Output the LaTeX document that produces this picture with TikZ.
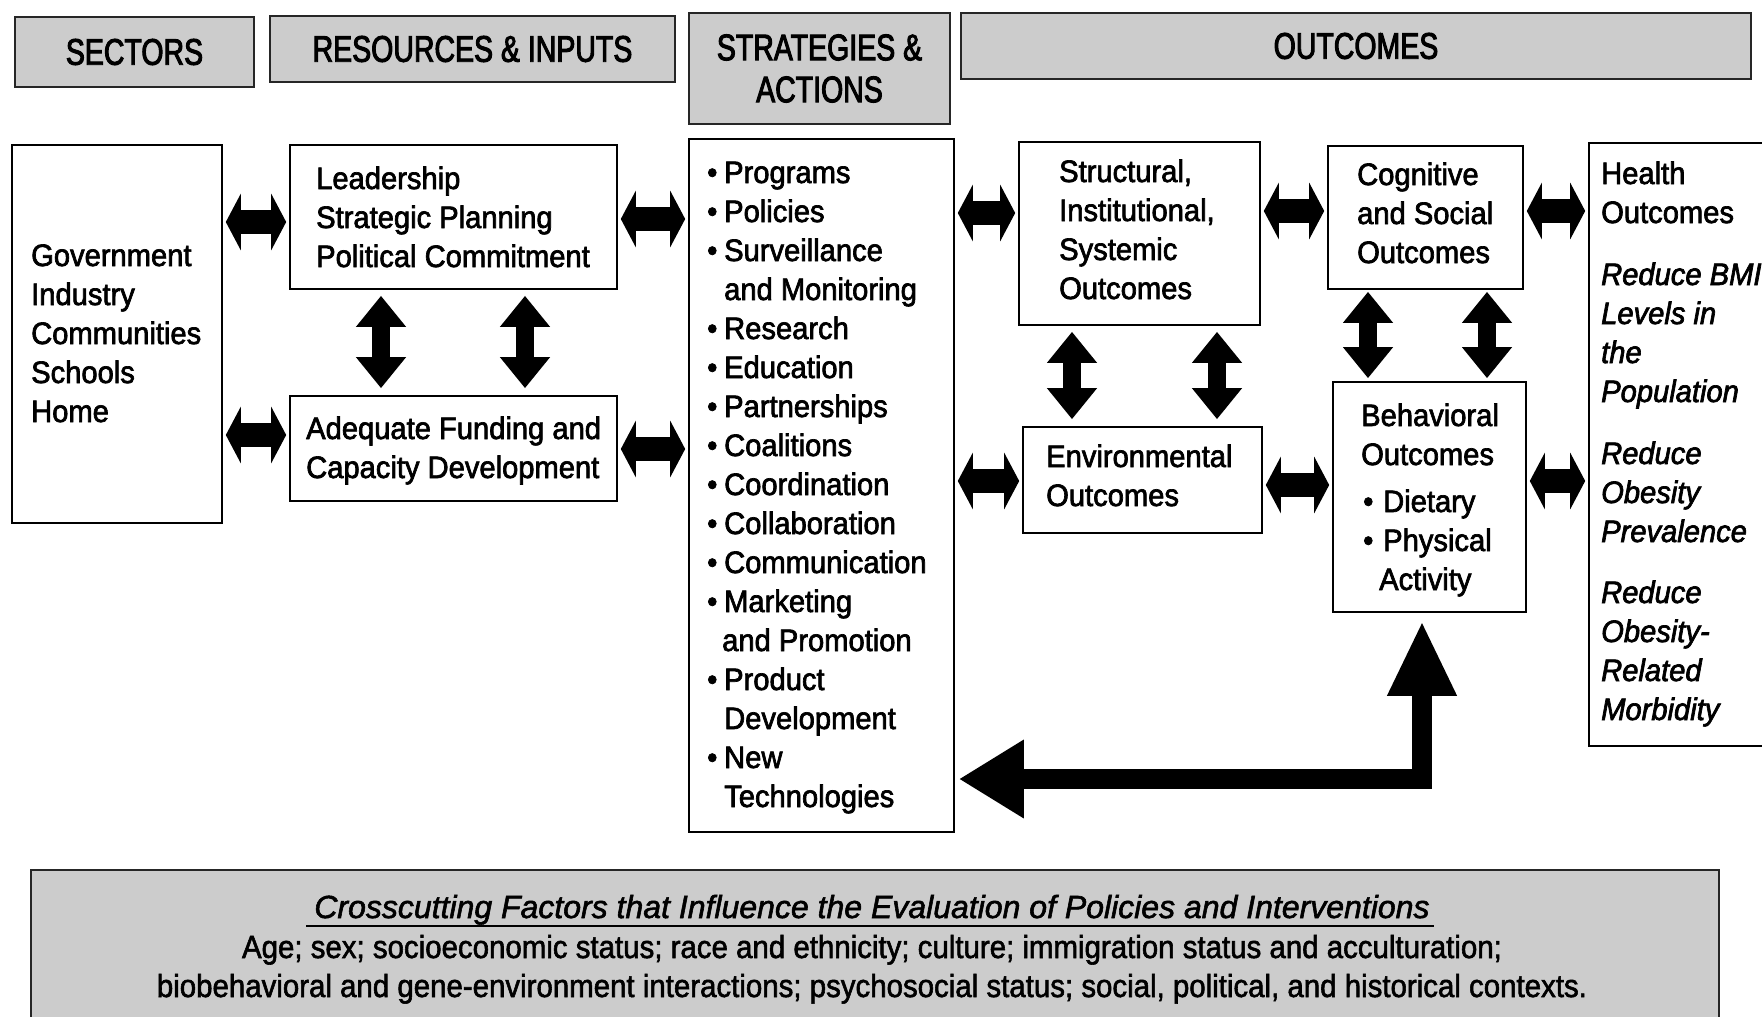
\documentclass[tikz,border=0pt]{standalone}
\usepackage{fontspec}
\setmainfont{Liberation Sans}[FakeStretch=0.94,FakeBold=2.2]
\newfontfamily\hdrfont{Liberation Sans}[FakeStretch=0.77,FakeBold=2.6]
\newfontfamily\crossfont{Liberation Sans}[FakeStretch=0.92,FakeBold=1.8]
\newfontfamily\crosstitlefont{Liberation Sans}[FakeBold=1.8]
\usetikzlibrary{arrows.meta}
\definecolor{hdrgray}{gray}{0.80}
\begin{document}
\begin{tikzpicture}[x=1pt,y=-1pt,
  box/.style={draw=black, line width=1.6pt, fill=white, inner sep=0pt},
  hdr/.style={draw=black!85, line width=2.6pt, fill=hdrgray, inner sep=0pt, align=center,
              font=\hdrfont\fontsize{37}{42}\selectfont},
  txt/.style={inner sep=0pt, align=left, anchor=base west, font=\fontsize{31}{39}\selectfont},
  harr/.style={line width=24pt, {Triangle[width=56pt,length=15pt]}-{Triangle[width=56pt,length=15pt]},
               shorten <=3pt, shorten >=3pt},
  varr/.style={line width=18pt, {Triangle[width=48pt,length=31pt]}-{Triangle[width=48pt,length=31pt]},
               shorten <=6pt, shorten >=7pt},
  bigarr/.style={line width=20pt, line join=miter,
                 {Triangle[width=74pt,length=65pt]}-{Triangle[width=64pt,length=75pt]},
                 shorten <=4pt, shorten >=8pt}
]
\useasboundingbox (0,0) rectangle (1762,1017);
\clip (0,0) rectangle (1762,1017);
\fill[white] (0,0) rectangle (1762,1017);

% headers
\node[hdr, minimum width=239pt, minimum height=70pt] (hsec) at (134.5,52) {SECTORS};
\node[hdr, minimum width=405pt, minimum height=66pt] (hres) at (472.5,49) {RESOURCES \& INPUTS};
\node[hdr, minimum width=261pt, minimum height=111pt] (hstr) at (819.5,68.5) {STRATEGIES \&\\ACTIONS};
\node[hdr, minimum width=790pt, minimum height=66pt] (hout) at (1356,46) {OUTCOMES};

% boxes
\node[box, minimum width=210pt, minimum height=378pt] (sect) at (117,334) {};
\node[box, minimum width=327pt, minimum height=144pt] (lead) at (453.5,217) {};
\node[box, minimum width=327pt, minimum height=105pt] (fund) at (453.5,448.5) {};
\node[box, minimum width=265pt, minimum height=693pt] (strat) at (821.5,485.5) {};
\node[box, minimum width=241pt, minimum height=183pt] (struct) at (1139.5,233.5) {};
\node[box, minimum width=239pt, minimum height=106pt] (env) at (1142.5,480) {};
\node[box, minimum width=195pt, minimum height=143pt] (cog) at (1425.5,217.5) {};
\node[box, minimum width=193pt, minimum height=230pt] (beh) at (1429.5,497) {};
\node[box, minimum width=191pt, minimum height=603pt] (health) at (1684.5,444.5) {};

% texts (anchor = baseline of the last line)
\node[txt] (sect-t) at (31,422) {Government\\Industry\\Communities\\Schools\\Home};
\node[txt] (lead-t) at (316,267) {Leadership\\Strategic Planning\\Political Commitment};
\node[txt] (fund-t) at (306,478) {Adequate Funding and\\Capacity Development};
\node[txt] (strat-t) at (707,807) {%
\makebox[17pt][l]{\textbullet}Programs\\
\makebox[17pt][l]{\textbullet}Policies\\
\makebox[17pt][l]{\textbullet}Surveillance\\
\hspace*{17pt}and Monitoring\\
\makebox[17pt][l]{\textbullet}Research\\
\makebox[17pt][l]{\textbullet}Education\\
\makebox[17pt][l]{\textbullet}Partnerships\\
\makebox[17pt][l]{\textbullet}Coalitions\\
\makebox[17pt][l]{\textbullet}Coordination\\
\makebox[17pt][l]{\textbullet}Collaboration\\
\makebox[17pt][l]{\textbullet}Communication\\
\makebox[17pt][l]{\textbullet}Marketing\\
\hspace*{15pt}and Promotion\\
\makebox[17pt][l]{\textbullet}Product\\
\hspace*{17pt}Development\\
\makebox[17pt][l]{\textbullet}New\\
\hspace*{17pt}Technologies};
\node[txt] (struct-t) at (1059,299) {Structural,\\Institutional,\\Systemic\\Outcomes};
\node[txt] (env-t) at (1046,506) {Environmental\\Outcomes};
\node[txt] (cog-t) at (1357,263) {Cognitive\\and Social\\Outcomes};
\node[txt] (beh-t) at (1361,590) {Behavioral\\Outcomes\\[8pt]
\hspace*{2pt}\makebox[20pt][l]{\textbullet}Dietary\\
\hspace*{2pt}\makebox[20pt][l]{\textbullet}Physical\\
\hspace*{18pt}Activity};
\node[txt] (health-t) at (1601,720) {Health\\Outcomes\\[23pt]
\textit{Reduce BMI}\\\textit{Levels in}\\\textit{the}\\\textit{Population}\\[23pt]
\textit{Reduce}\\\textit{Obesity}\\\textit{Prevalence}\\[22pt]
\textit{Reduce}\\\textit{Obesity-}\\\textit{Related}\\\textit{Morbidity}};

% crosscutting box
\node[draw=black!85, line width=2.6pt, fill=hdrgray, minimum width=1688pt, minimum height=160pt, inner sep=0pt] (cross) at (875,950) {};
\node[inner sep=0pt, anchor=base, font=\crosstitlefont\itshape\fontsize{32}{38}\selectfont] (ctitle) at (872,918)
  {Crosscutting Factors that Influence the Evaluation of Policies and Interventions};
\draw[line width=2.5pt] ([xshift=-8pt,yshift=-8pt]ctitle.base west) -- ([xshift=4pt,yshift=-8pt]ctitle.base east);
\node[inner sep=0pt, anchor=base, font=\crossfont\fontsize{32}{39}\selectfont] (cl1) at (872,958)
  {Age; sex; socioeconomic status; race and ethnicity; culture; immigration status and acculturation;};
\node[inner sep=0pt, anchor=base, font=\crossfont\fontsize{32}{39}\selectfont] (cl2) at (872,997)
  {biobehavioral and gene-environment interactions; psychosocial status; social, political, and historical contexts.};

% arrow levels
\coordinate (y1) at (0,222);
\coordinate (y2) at (0,435);
\coordinate (y3) at (0,219);
\coordinate (y4) at (0,449);
\coordinate (y5) at (0,213);
\coordinate (y6) at (0,481);
\coordinate (y7) at (0,211);
\coordinate (y8) at (0,485);
\coordinate (y9) at (0,211);
\coordinate (y10) at (0,481);
\draw[harr] (sect.east |- y1) -- (lead.west |- y1);
\draw[harr] (sect.east |- y2) -- (fund.west |- y2);
\draw[harr] (lead.east |- y3) -- (strat.west |- y3);
\draw[harr] (fund.east |- y4) -- (strat.west |- y4);
\draw[harr] (strat.east |- y5) -- (struct.west |- y5);
\draw[harr] (strat.east |- y6) -- (env.west |- y6);
\draw[harr] (struct.east |- y7) -- (cog.west |- y7);
\draw[harr] (env.east |- y8) -- (beh.west |- y8);
\draw[harr] (cog.east |- y9) -- (health.west |- y9);
\draw[harr] (beh.east |- y10) -- (health.west |- y10);

\coordinate (x1) at (381,0);
\coordinate (x2) at (525,0);
\coordinate (x3) at (1072,0);
\coordinate (x4) at (1217,0);
\coordinate (x5) at (1368,0);
\coordinate (x6) at (1487,0);
\draw[varr] (x1 |- lead.south) -- (x1 |- fund.north);
\draw[varr] (x2 |- lead.south) -- (x2 |- fund.north);
\draw[varr] (x3 |- struct.south) -- (x3 |- env.north);
\draw[varr] (x4 |- struct.south) -- (x4 |- env.north);
\draw[varr, shorten <=2pt, shorten >=3pt] (x5 |- cog.south) -- (x5 |- beh.north);
\draw[varr, shorten <=2pt, shorten >=3pt] (x6 |- cog.south) -- (x6 |- beh.north);

\coordinate (bend) at (1422,779);
\draw[bigarr] (strat.east |- bend) -- (bend) -- (bend |- beh.south);
\end{tikzpicture}
\end{document}
